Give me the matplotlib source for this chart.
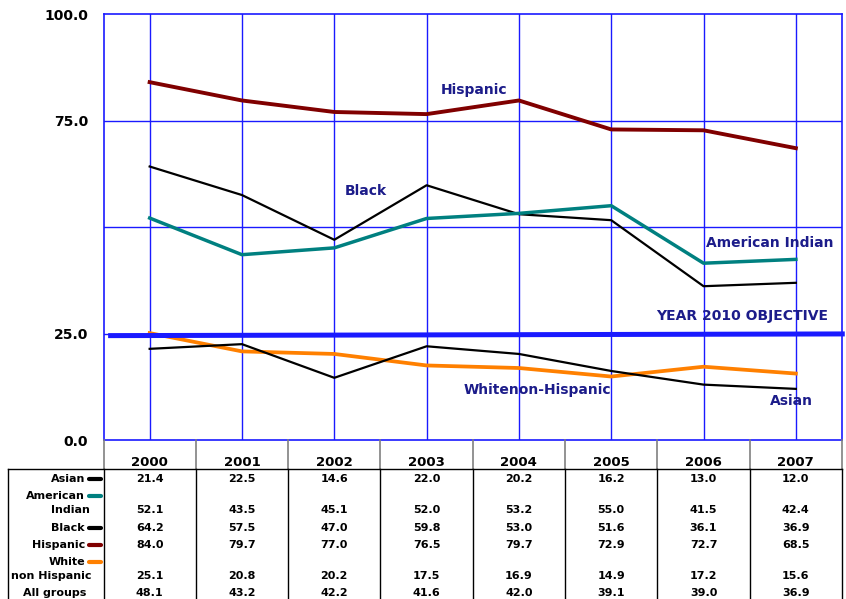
import matplotlib.pyplot as plt
import numpy as np

years = ['2000', '2001', '2002', '2003', '2004', '2005', '2006', '2007']
asian = [21.4, 22.5, 14.6, 22.0, 20.2, 16.2, 13.0, 12.0]
american_indian = [52.1, 43.5, 45.1, 52.0, 53.2, 55.0, 41.5, 42.4]
black = [64.2, 57.5, 47.0, 59.8, 53.0, 51.6, 36.1, 36.9]
hispanic = [84.0, 79.7, 77.0, 76.5, 79.7, 72.9, 72.7, 68.5]
white = [25.1, 20.8, 20.2, 17.5, 16.9, 14.9, 17.2, 15.6]
all_groups = [48.1, 43.2, 42.2, 41.6, 42.0, 39.1, 39.0, 36.9]
objective = [24.5, 24.9]  # year 2010 objective line (slightly tilted as in the original)

yticks = [0, 25, 75, 100]

navy = '#1c1c8a'
blue = '#1a1aff'
teal = '#008080'
dred = '#800000'
orange = '#ff8000'

W, H = 846, 599
fig = plt.figure(figsize=(W / 100, H / 100), dpi=100)
left, right, top, bot = 103.5, 842, 14, 440
ax = fig.add_axes([left / W, (H - bot) / H, (right - left) / W, (bot - top) / H])

x = np.arange(len(years))
ax.set_xlim(-0.5, len(years) - 0.5)
ax.set_ylim(0, 100)

# grid
for xi in x:
    ax.axvline(xi, color=blue, lw=1, zorder=1)
for yv in [25, 50, 75]:
    ax.axhline(yv, color=blue, lw=1, zorder=1)
for s in ax.spines.values():
    s.set_color(blue)
    s.set_linewidth(1.2)

ax.plot(x, hispanic, color=dred, lw=2.8, zorder=3)
ax.plot(x, black, color='black', lw=1.6, zorder=3)
ax.plot(x, american_indian, color=teal, lw=2.5, zorder=3)
ax.plot(x, white, color=orange, lw=2.7, zorder=3)
ax.plot(x, asian, color='black', lw=1.6, zorder=3)
ax.plot([-0.45, len(years) - 0.47], objective, color=blue, lw=3.6, zorder=4,
        clip_on=False, solid_capstyle='butt')

lab = dict(color=navy, fontsize=10, fontweight='bold', ha='center', va='center', zorder=5)
ax.text(3.51, 82.2, 'Hispanic', **lab)
ax.text(2.34, 58.5, 'Black', **lab)
ax.text(6.72, 46.2, 'American Indian', **lab)
ax.text(6.42, 29.1, 'YEAR 2010 OBJECTIVE', **lab)
ax.text(4.20, 11.7, 'Whitenon-Hispanic', **lab)
ax.text(6.95, 9.2, 'Asian', **lab)

ax.set_xticks([])
ax.set_yticks(yticks)
ax.set_yticklabels(['%.1f' % v for v in yticks], fontsize=10, fontweight='bold')
ax.tick_params(axis='y', length=0, pad=11)

# data table under the plot, same x scale as the chart
tax = fig.add_axes([left / W, 0, (right - left) / W, (H - bot) / H])
tax.set_xlim(-0.5, len(years) - 0.5)
tax.set_ylim(H - bot, 0)
tax.axis('off')

edges = np.arange(len(years) + 1) - 0.5
for e in edges:
    tax.plot([e, e], [0, 29], color='#808080', lw=1.2, clip_on=False)
    tax.plot([e, e], [29, 160], color='black', lw=1.0, clip_on=False)
xl = -1.534
tax.plot([xl, edges[-1]], [29, 29], color='black', lw=1.0, clip_on=False)
tax.plot([xl, xl], [29, 160], color='black', lw=1.0, clip_on=False)

for xi, yr in zip(x, years):
    tax.text(xi, 22, yr, ha='center', va='center', fontsize=9.5, fontweight='bold')

rows = [
    (asian, 39, [('Asian', 39, 'right', -0.70)], 'black'),
    (american_indian, 70, [('American', 56, 'right', -0.70), ('Indian', 70, 'center', -0.862)], teal),
    (black, 88, [('Black', 88, 'right', -0.70)], 'black'),
    (hispanic, 105, [('Hispanic', 105, 'right', -0.70)], dred),
    (white, 136, [('White', 122, 'right', -0.70), ('non Hispanic', 136, 'center', -1.063)], orange),
    (all_groups, 153.5, [('All groups', 153.5, 'center', -1.025)], None),
]
for vals, yv, labels, col in rows:
    for xi, v in zip(x, vals):
        tax.text(xi, yv, '%.1f' % v, ha='center', va='center', fontsize=8, fontweight='bold')
    for txt, ly, ha, lx in labels:
        tax.text(lx, ly, txt, ha=ha, va='center', fontsize=8, fontweight='bold', clip_on=False)
    if col is not None:
        sy = labels[0][1]
        tax.plot([-0.656, -0.526], [sy, sy], color=col, lw=3, clip_on=False,
                 solid_capstyle='round')

fig.savefig('out.png', dpi=100)
